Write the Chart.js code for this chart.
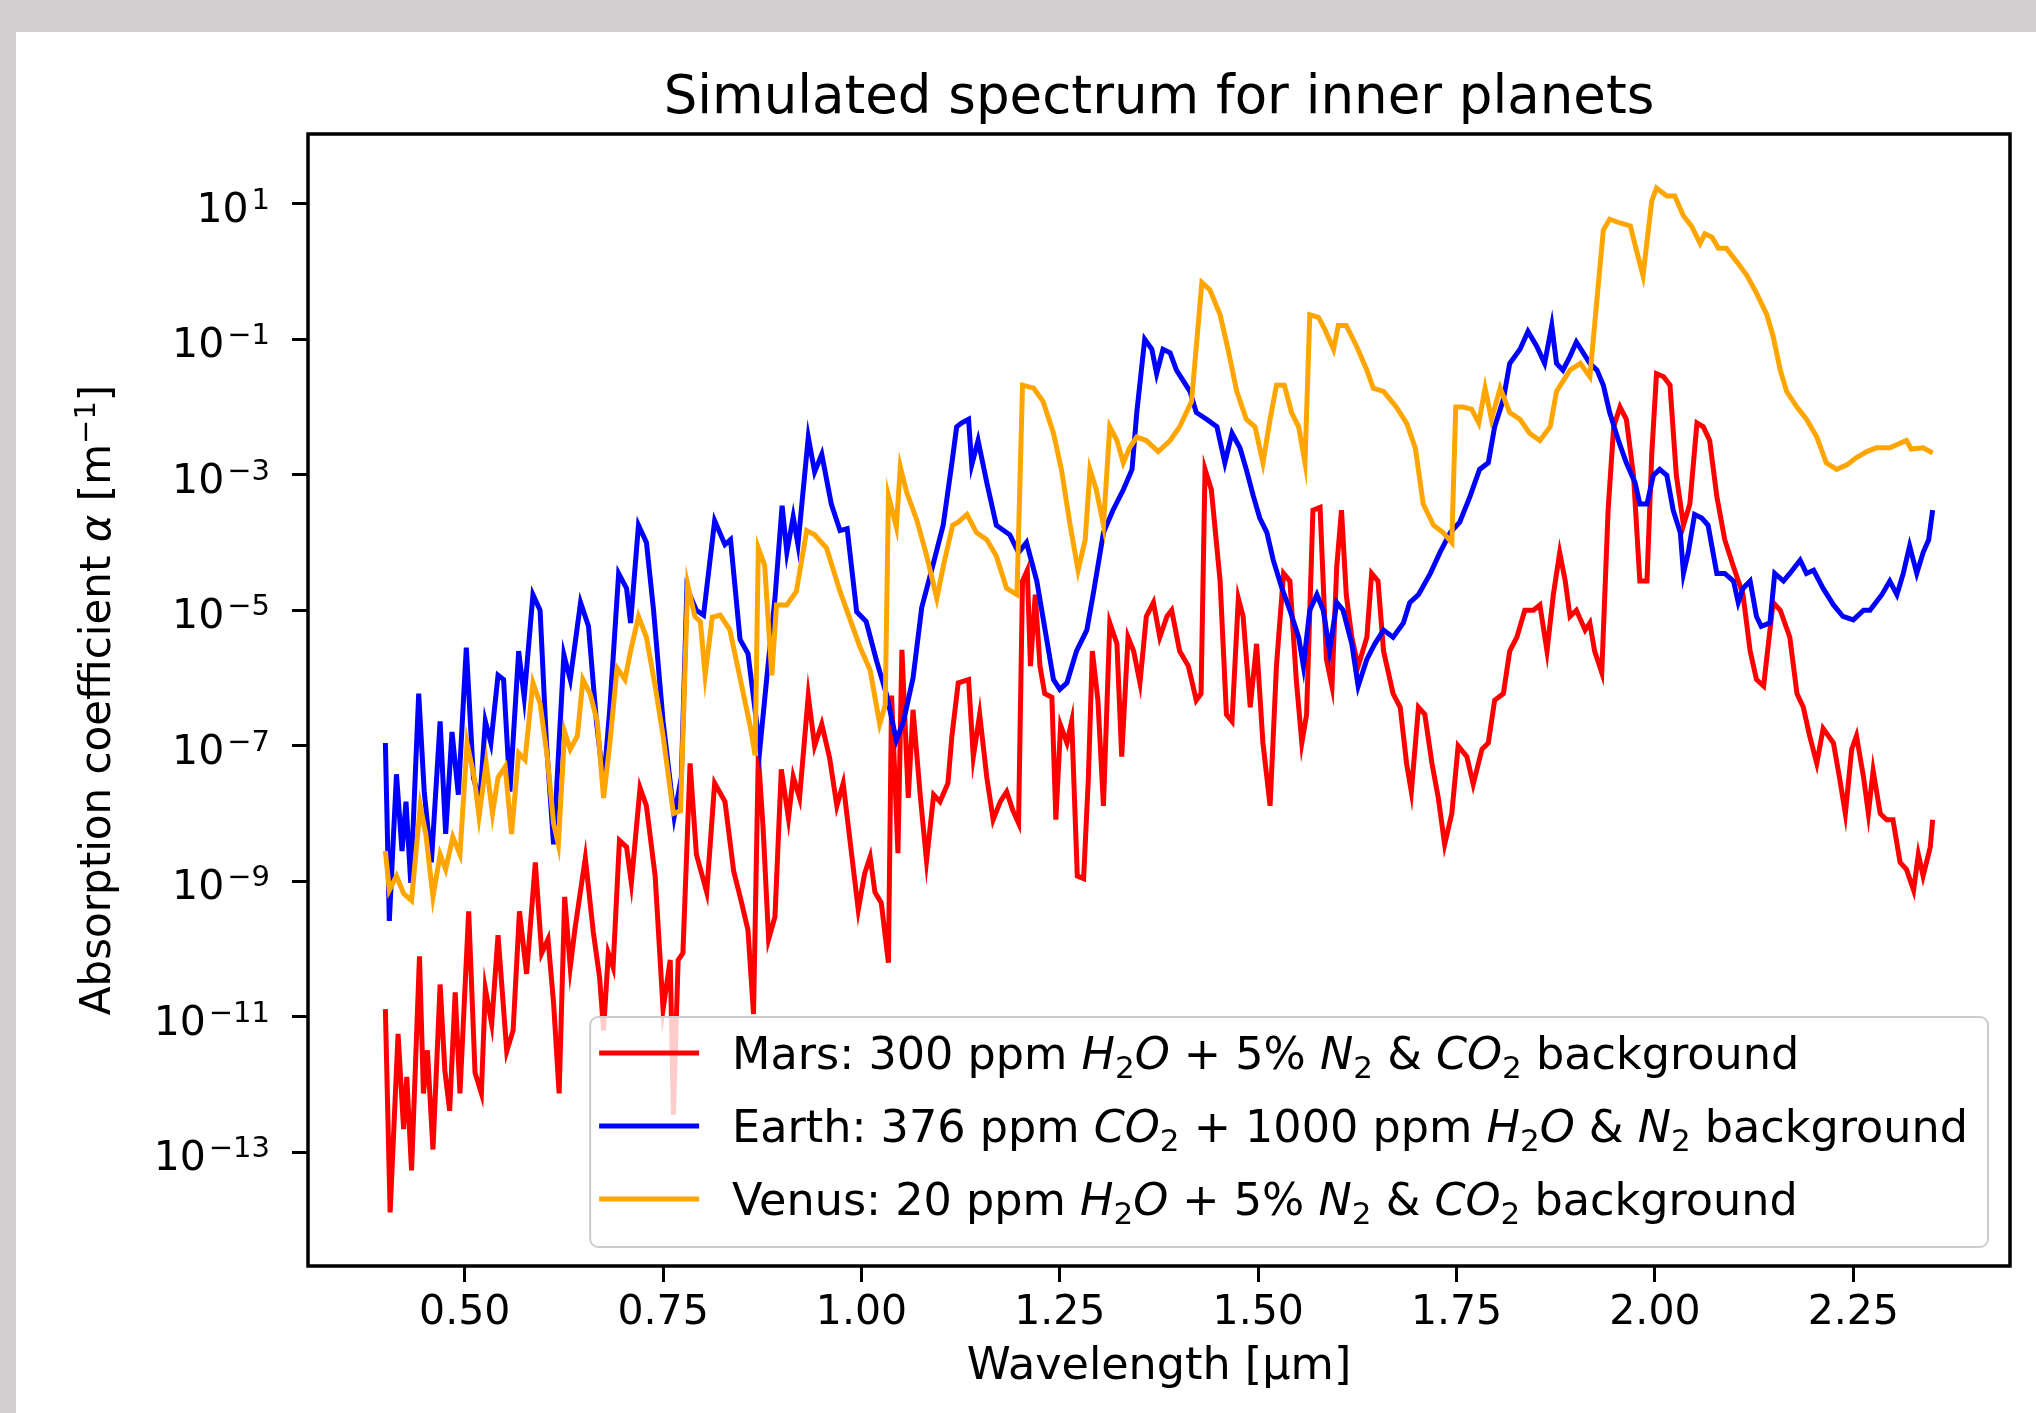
<!DOCTYPE html>
<html>
<head>
<meta charset="utf-8">
<title>Simulated spectrum for inner planets</title>
<script src="https://cdn.jsdelivr.net/npm/chart.js@4.4.1/dist/chart.umd.min.js"></script>
<style>
  html, body { margin: 0; padding: 0; background: #d2cdcf; }
  #wrap { width: 2036px; height: 1413px; }
</style>
</head>
<body>
<div id="wrap"><canvas id="spectrum" width="2036" height="1413"></canvas></div>
<script>
"use strict";

// tick positions / labels
const xTickValues = [0.5, 0.75, 1.0, 1.25, 1.5, 1.75, 2.0, 2.25];
const xTickLabels = ['0.50', '0.75', '1.00', '1.25', '1.50', '1.75', '2.00', '2.25'];
const yTickValues = [1e1, 1e-1, 1e-3, 1e-5, 1e-7, 1e-9, 1e-11, 1e-13];
const yTickExponents = ['1', '\u22121', '\u22123', '\u22125', '\u22127', '\u22129', '\u221211', '\u221213'];

const yAxisTitle = 'Absorption coefficient $\\alpha$ [m$^{\u22121}$]';
const seriesLabels = [
  'Mars: 300 ppm $H_2O$ + 5% $N_2$ & $CO_2$ background',
  'Earth: 376 ppm $CO_2$ + 1000 ppm $H_2O$ & $N_2$ background',
  'Venus: 20 ppm $H_2O$ + 5% $N_2$ & $CO_2$ background'
];

// [wavelength (um), absorption coefficient (1/m)]
const marsPoints = [
  [0.400,1.3e-11],[0.406,1.3e-14],[0.416,5.6e-12],[0.423,2.2e-13],[0.427,1.3e-12],[0.433,5.4e-14],
  [0.443,7.8e-11],[0.448,7.4e-13],[0.453,3.2e-12],[0.460,1.1e-13],[0.469,3.0e-11],[0.475,1.6e-12],
  [0.481,4.1e-13],[0.488,2.3e-11],[0.494,7.4e-13],[0.505,3.6e-10],[0.513,1.5e-12],[0.521,7.4e-13],
  [0.526,2.6e-11],[0.534,7.9e-12],[0.542,1.6e-10],[0.553,3.1e-12],[0.561,6.3e-12],[0.569,3.6e-10],
  [0.578,4.3e-11],[0.589,1.9e-9],[0.597,8.7e-11],[0.605,1.4e-10],[0.612,1.6e-11],[0.619,7.4e-13],
  [0.626,5.9e-10],[0.633,5.4e-11],[0.639,2.0e-10],[0.652,2.2e-9],[0.662,1.8e-10],[0.670,3.8e-11],
  [0.675,6.3e-12],[0.681,8.7e-11],[0.687,5.4e-11],[0.695,4.0e-9],[0.704,3.2e-9],[0.710,9.5e-10],
  [0.721,2.4e-8],[0.729,1.3e-8],[0.740,1.2e-9],[0.750,1.3e-11],[0.759,6.9e-11],[0.763,3.6e-13],
  [0.769,6.9e-11],[0.775,8.7e-11],[0.784,5.5e-8],[0.792,2.5e-9],[0.805,6.9e-10],[0.815,2.8e-8],
  [0.828,1.5e-8],[0.839,1.4e-9],[0.849,4.8e-10],[0.857,1.9e-10],[0.864,1.1e-11],[0.870,7.2e-8],
  [0.876,6.3e-9],[0.883,1.4e-10],[0.891,3.0e-10],[0.899,4.5e-8],[0.908,8.5e-9],[0.914,3.5e-8],
  [0.922,1.7e-8],[0.933,5.5e-7],[0.941,1.0e-7],[0.950,2.1e-7],[0.960,6.5e-8],[0.969,1.3e-8],
  [0.977,2.8e-8],[0.988,2.3e-9],[0.996,3.8e-10],[1.004,1.3e-9],[1.011,2.3e-9],[1.017,6.9e-10],
  [1.025,4.8e-10],[1.034,6.3e-11],[1.038,5.5e-7],[1.046,2.6e-9],[1.051,2.6e-6],[1.059,1.7e-8],
  [1.065,3.4e-7],[1.074,1.9e-8],[1.082,2.0e-9],[1.091,1.9e-8],[1.099,1.5e-8],[1.109,2.8e-8],
  [1.114,1.4e-7],[1.122,8.5e-7],[1.135,9.5e-7],[1.141,6.9e-8],[1.149,2.9e-7],[1.158,3.4e-8],
  [1.166,8.1e-9],[1.175,1.5e-8],[1.183,2.1e-8],[1.191,1.1e-8],[1.198,7.2e-9],[1.203,2.7e-5],
  [1.209,3.9e-5],[1.213,1.5e-6],[1.219,1.7e-5],[1.225,1.5e-6],[1.231,5.9e-7],[1.240,5.2e-7],
  [1.245,8.1e-9],[1.251,2.0e-7],[1.259,1.1e-7],[1.265,2.3e-7],[1.272,1.2e-9],[1.280,1.1e-9],
  [1.286,3.4e-8],[1.291,2.5e-6],[1.298,4.7e-7],[1.305,1.3e-8],[1.313,6.5e-6],[1.322,3.2e-6],
  [1.328,6.9e-8],[1.336,4.0e-6],[1.343,2.5e-6],[1.351,8.5e-7],[1.359,8.1e-6],[1.368,1.3e-5],
  [1.376,4.0e-6],[1.385,8.1e-6],[1.391,1.0e-5],[1.401,2.5e-6],[1.412,1.5e-6],[1.422,4.7e-7],
  [1.428,5.9e-7],[1.433,1.2e-3],[1.441,6.0e-4],[1.452,2.7e-5],[1.460,2.9e-7],[1.467,2.3e-7],
  [1.475,1.5e-5],[1.481,8.1e-6],[1.490,3.7e-7],[1.498,3.2e-6],[1.506,1.1e-7],[1.515,1.3e-8],
  [1.523,1.5e-6],[1.532,3.5e-5],[1.540,2.7e-5],[1.548,9.5e-7],[1.555,1.1e-7],[1.561,2.9e-7],
  [1.569,3.0e-4],[1.578,3.3e-4],[1.586,1.9e-6],[1.593,7.6e-7],[1.599,4.4e-5],[1.605,3.0e-4],
  [1.611,1.7e-5],[1.618,4.0e-6],[1.626,1.5e-6],[1.637,4.0e-6],[1.643,3.5e-5],[1.651,2.7e-5],
  [1.658,2.5e-6],[1.670,5.9e-7],[1.679,3.7e-7],[1.687,5.5e-8],[1.693,2.1e-8],[1.702,3.7e-7],
  [1.710,2.9e-7],[1.719,5.5e-8],[1.727,1.7e-8],[1.735,3.5e-9],[1.744,1.0e-8],[1.752,1.0e-7],
  [1.763,6.9e-8],[1.771,2.7e-8],[1.782,8.9e-8],[1.790,1.1e-7],[1.798,4.7e-7],[1.809,5.9e-7],
  [1.817,2.5e-6],[1.826,4.0e-6],[1.836,1.0e-5],[1.847,1.0e-5],[1.855,1.2e-5],[1.864,2.5e-6],
  [1.872,1.7e-5],[1.880,7.1e-5],[1.887,2.7e-5],[1.893,8.1e-6],[1.901,1.0e-5],[1.912,5.1e-6],
  [1.918,6.5e-6],[1.924,2.5e-6],[1.933,1.2e-6],[1.941,3.0e-4],[1.948,5.1e-3],[1.956,1.0e-2],
  [1.964,6.6e-3],[1.973,9.8e-4],[1.981,2.7e-5],[1.990,2.7e-5],[1.996,2.0e-3],[2.002,3.1e-2],
  [2.011,2.8e-2],[2.019,2.1e-2],[2.027,9.8e-4],[2.036,1.8e-4],[2.044,3.7e-4],[2.053,5.8e-3],
  [2.061,5.1e-3],[2.069,3.2e-3],[2.078,4.8e-4],[2.088,1.1e-4],[2.099,4.4e-5],[2.111,1.7e-5],
  [2.120,2.5e-6],[2.128,9.5e-7],[2.137,7.6e-7],[2.143,3.2e-6],[2.149,1.3e-5],[2.158,1.0e-5],
  [2.170,4.0e-6],[2.179,5.9e-7],[2.187,3.7e-7],[2.195,1.4e-7],[2.204,5.5e-8],[2.212,1.8e-7],
  [2.225,1.1e-7],[2.233,3.2e-8],[2.240,1.0e-8],[2.248,8.9e-8],[2.254,1.4e-7],[2.263,3.4e-8],
  [2.269,1.0e-8],[2.275,4.3e-8],[2.284,1.0e-8],[2.292,8.1e-9],[2.300,8.1e-9],[2.309,1.9e-9],
  [2.317,1.5e-9],[2.326,7.4e-10],[2.332,2.5e-9],[2.338,1.2e-9],[2.347,3.2e-9],[2.350,8.1e-9]
];

const earthPoints = [
  [0.400,1.1e-7],[0.405,2.6e-10],[0.414,3.8e-8],[0.421,2.8e-9],[0.426,1.5e-8],[0.432,9.5e-10],
  [0.442,5.9e-7],[0.449,2.1e-8],[0.458,1.9e-9],[0.469,2.3e-7],[0.476,5.0e-9],[0.484,1.6e-7],
  [0.492,1.9e-8],[0.502,2.8e-6],[0.511,3.4e-8],[0.519,1.5e-8],[0.526,2.3e-7],[0.533,1.1e-7],
  [0.542,1.1e-6],[0.549,9.5e-7],[0.557,2.1e-8],[0.568,2.5e-6],[0.575,5.2e-7],[0.586,1.7e-5],
  [0.595,1.0e-5],[0.603,1.1e-7],[0.612,3.5e-9],[0.625,2.2e-6],[0.633,9.5e-7],[0.646,1.3e-5],
  [0.656,5.8e-6],[0.666,2.3e-7],[0.675,2.7e-8],[0.683,3.7e-7],[0.694,3.5e-5],[0.704,2.1e-5],
  [0.709,6.5e-6],[0.719,1.8e-4],[0.729,1.0e-4],[0.738,1.0e-5],[0.750,2.3e-7],[0.764,9.1e-9],
  [0.773,3.4e-8],[0.780,2.1e-5],[0.792,1.0e-5],[0.801,8.5e-6],[0.815,2.1e-4],[0.828,9.3e-5],
  [0.835,1.1e-4],[0.847,3.7e-6],[0.857,2.3e-6],[0.872,9.1e-8],[0.881,1.1e-6],[0.891,1.5e-5],
  [0.900,3.5e-4],[0.906,7.2e-5],[0.914,2.4e-4],[0.920,9.3e-5],[0.933,3.6e-3],[0.941,1.1e-3],
  [0.950,2.0e-3],[0.962,3.7e-4],[0.973,1.5e-4],[0.982,1.6e-4],[0.994,9.5e-6],[1.006,6.8e-6],
  [1.019,1.8e-6],[1.032,5.5e-7],[1.044,1.2e-7],[1.053,2.3e-7],[1.065,1.0e-6],[1.076,1.1e-5],
  [1.090,4.6e-5],[1.103,1.8e-4],[1.114,1.5e-3],[1.120,5.1e-3],[1.126,5.8e-3],[1.135,6.6e-3],
  [1.139,1.4e-3],[1.147,3.2e-3],[1.158,7.6e-4],[1.170,1.8e-4],[1.187,1.3e-4],[1.198,7.1e-5],
  [1.208,1.0e-4],[1.221,2.7e-5],[1.233,4.0e-6],[1.242,9.5e-7],[1.250,6.8e-7],[1.259,8.5e-7],
  [1.271,2.5e-6],[1.284,5.1e-6],[1.292,1.7e-5],[1.305,1.4e-4],[1.317,3.0e-4],[1.330,6.0e-4],
  [1.341,1.2e-3],[1.347,8.3e-3],[1.357,1.0e-1],[1.366,7.1e-2],[1.372,3.1e-2],[1.380,7.1e-2],
  [1.389,6.3e-2],[1.397,3.5e-2],[1.414,1.7e-2],[1.422,8.3e-3],[1.435,6.6e-3],[1.448,5.1e-3],
  [1.458,1.5e-3],[1.467,4.1e-3],[1.477,2.5e-3],[1.485,1.2e-3],[1.494,4.8e-4],[1.502,2.3e-4],
  [1.511,1.4e-4],[1.519,5.5e-5],[1.530,2.1e-5],[1.540,1.0e-5],[1.551,4.0e-6],[1.557,1.5e-6],
  [1.565,1.0e-5],[1.574,1.7e-5],[1.582,1.0e-5],[1.590,2.5e-6],[1.599,1.3e-5],[1.607,1.0e-5],
  [1.618,3.2e-6],[1.626,7.6e-7],[1.637,1.9e-6],[1.647,3.2e-6],[1.658,5.1e-6],[1.670,4.0e-6],
  [1.683,6.5e-6],[1.691,1.3e-5],[1.702,1.7e-5],[1.717,3.5e-5],[1.729,7.1e-5],[1.742,1.4e-4],
  [1.754,2.0e-4],[1.767,4.8e-4],[1.779,1.2e-3],[1.790,1.5e-3],[1.798,5.1e-3],[1.809,1.3e-2],
  [1.817,4.4e-2],[1.830,7.1e-2],[1.840,1.3e-1],[1.851,7.9e-2],[1.861,4.4e-2],[1.870,1.6e-1],
  [1.876,4.4e-2],[1.884,3.5e-2],[1.893,5.6e-2],[1.901,9.1e-2],[1.918,4.4e-2],[1.927,3.5e-2],
  [1.935,2.1e-2],[1.943,8.3e-3],[1.954,3.2e-3],[1.964,1.5e-3],[1.975,7.6e-4],[1.981,3.7e-4],
  [1.990,3.7e-4],[1.998,9.8e-4],[2.006,1.2e-3],[2.015,9.8e-4],[2.023,3.0e-4],[2.032,1.4e-4],
  [2.036,3.5e-5],[2.042,7.1e-5],[2.050,2.6e-4],[2.059,2.3e-4],[2.067,1.8e-4],[2.078,3.5e-5],
  [2.088,3.5e-5],[2.099,2.7e-5],[2.105,1.3e-5],[2.111,2.1e-5],[2.120,2.7e-5],[2.128,8.1e-6],
  [2.134,5.8e-6],[2.145,6.5e-6],[2.151,3.5e-5],[2.162,2.7e-5],[2.170,3.5e-5],[2.183,5.5e-5],
  [2.191,3.5e-5],[2.200,3.9e-5],[2.212,2.1e-5],[2.225,1.2e-5],[2.237,8.1e-6],[2.250,7.2e-6],
  [2.263,1.0e-5],[2.271,1.0e-5],[2.286,1.7e-5],[2.296,2.7e-5],[2.305,1.7e-5],[2.313,3.5e-5],
  [2.321,8.9e-5],[2.330,3.5e-5],[2.338,7.1e-5],[2.345,1.1e-4],[2.350,3.0e-4]
];

const venusPoints = [
  [0.400,2.8e-9],[0.405,7.4e-10],[0.414,1.2e-9],[0.423,6.6e-10],[0.433,5.2e-10],[0.444,1.3e-8],
  [0.451,5.0e-9],[0.460,5.9e-10],[0.469,2.5e-9],[0.476,1.5e-9],[0.485,4.5e-9],[0.494,2.5e-9],
  [0.503,1.1e-7],[0.512,3.4e-8],[0.518,9.1e-9],[0.527,5.5e-8],[0.535,1.0e-8],[0.542,3.4e-8],
  [0.551,4.9e-8],[0.559,5.0e-9],[0.568,7.8e-8],[0.576,6.2e-8],[0.586,8.5e-7],[0.595,4.2e-7],
  [0.604,6.9e-8],[0.612,7.2e-9],[0.618,3.5e-9],[0.626,1.6e-7],[0.633,8.9e-8],[0.642,1.4e-7],
  [0.649,9.5e-7],[0.658,5.9e-7],[0.667,2.3e-7],[0.675,1.7e-8],[0.683,1.1e-7],[0.692,1.4e-6],
  [0.702,9.5e-7],[0.709,2.5e-6],[0.719,8.1e-6],[0.729,4.0e-6],[0.740,7.6e-7],[0.750,1.4e-7],
  [0.763,1.0e-8],[0.772,1.1e-8],[0.781,2.4e-5],[0.790,8.1e-6],[0.797,6.8e-6],[0.803,1.1e-6],
  [0.812,7.9e-6],[0.822,8.5e-6],[0.834,5.2e-6],[0.847,1.0e-6],[0.860,1.9e-7],[0.866,7.2e-8],
  [0.870,8.3e-5],[0.878,4.6e-5],[0.887,1.1e-6],[0.893,1.2e-5],[0.906,1.2e-5],[0.918,1.9e-5],
  [0.931,1.5e-4],[0.941,1.3e-4],[0.956,8.3e-5],[0.973,1.9e-5],[0.998,2.9e-6],[1.011,1.3e-6],
  [1.023,2.1e-7],[1.030,4.0e-7],[1.034,4.9e-4],[1.044,1.7e-4],[1.049,1.3e-3],[1.057,5.5e-4],
  [1.070,2.1e-4],[1.082,6.5e-5],[1.095,1.5e-5],[1.104,5.0e-5],[1.115,1.8e-4],[1.122,2.0e-4],
  [1.133,2.6e-4],[1.145,1.4e-4],[1.158,1.1e-4],[1.170,6.3e-5],[1.183,2.1e-5],[1.196,1.7e-5],
  [1.203,2.1e-2],[1.217,1.9e-2],[1.229,1.2e-2],[1.242,4.1e-3],[1.252,1.2e-3],[1.263,1.8e-4],
  [1.273,3.9e-5],[1.282,1.1e-4],[1.288,1.2e-3],[1.296,6.0e-4],[1.305,1.8e-4],[1.313,5.1e-3],
  [1.322,3.2e-3],[1.330,1.5e-3],[1.338,2.5e-3],[1.347,3.6e-3],[1.359,3.2e-3],[1.374,2.2e-3],
  [1.389,3.2e-3],[1.401,5.1e-3],[1.416,1.2e-2],[1.429,6.9e-1],[1.439,5.4e-1],[1.452,2.3e-1],
  [1.462,7.1e-2],[1.473,1.7e-2],[1.485,6.6e-3],[1.496,5.1e-3],[1.506,1.5e-3],[1.515,6.6e-3],
  [1.523,2.1e-2],[1.533,2.1e-2],[1.542,8.3e-3],[1.551,5.1e-3],[1.559,1.5e-3],[1.565,2.3e-1],
  [1.576,2.1e-1],[1.584,1.4e-1],[1.595,7.1e-2],[1.601,1.6e-1],[1.611,1.6e-1],[1.624,7.9e-2],
  [1.637,3.5e-2],[1.645,1.9e-2],[1.658,1.7e-2],[1.674,1.0e-2],[1.687,5.8e-3],[1.698,2.5e-3],
  [1.708,3.7e-4],[1.721,1.8e-4],[1.733,1.4e-4],[1.744,1.0e-4],[1.749,1.0e-2],[1.758,1.0e-2],
  [1.769,9.3e-3],[1.778,5.8e-3],[1.786,1.9e-2],[1.794,6.6e-3],[1.805,1.9e-2],[1.817,8.3e-3],
  [1.830,6.6e-3],[1.842,4.1e-3],[1.855,3.2e-3],[1.868,5.1e-3],[1.876,1.7e-2],[1.893,3.5e-2],
  [1.906,4.4e-2],[1.918,2.8e-2],[1.935,4.1],[1.943,5.9],[1.956,5.2],[1.969,4.7],
  [1.977,2.0],[1.985,0.87],[1.996,11],[2.002,17],[2.015,13],[2.025,13],
  [2.036,6.6],[2.046,4.7],[2.057,2.6],[2.063,3.6],[2.072,3.2],[2.080,2.2],
  [2.090,2.2],[2.103,1.4],[2.116,0.87],[2.128,0.48],[2.141,0.23],[2.149,0.11],
  [2.158,3.5e-2],[2.166,1.7e-2],[2.179,1.0e-2],[2.191,6.6e-3],[2.204,3.6e-3],[2.216,1.5e-3],
  [2.229,1.2e-3],[2.242,1.4e-3],[2.254,1.8e-3],[2.267,2.2e-3],[2.279,2.5e-3],[2.296,2.5e-3],
  [2.317,3.2e-3],[2.323,2.4e-3],[2.338,2.5e-3],[2.350,2.1e-3]
];

const seriesColors = ['#ff0000', '#0000ff', '#ffa500'];
const FONT = '"DejaVu Sans", "Liberation Sans", sans-serif';

const toXY = (pts) => pts.map(p => ({ x: p[0], y: p[1] }));

// page background + white figure panel
const panelBackground = {
  id: 'panelBackground',
  beforeDraw(chart) {
    const { ctx, width, height } = chart;
    ctx.save();
    ctx.fillStyle = '#d2cdcf';
    ctx.fillRect(0, 0, width, height);
    ctx.fillStyle = '#ffffff';
    ctx.fillRect(16, 32, width - 16, height - 32);
    ctx.restore();
  }
};

// four spines around the axes
const axesFrame = {
  id: 'axesFrame',
  afterDatasetsDraw(chart) {
    const { ctx, chartArea: a } = chart;
    ctx.save();
    ctx.strokeStyle = '#000';
    ctx.lineWidth = 3.5;
    ctx.strokeRect(a.left, a.top, a.right - a.left, a.bottom - a.top);
    ctx.restore();
  }
};

// mathtext-like runs: "$...$" letters italic, "_x" subscript, "^{..}" superscript
function mathRuns(text) {
  const runs = [];
  text.split('$').forEach((part, k) => {
    if (k % 2 === 0) {
      if (part) runs.push({ t: part, s: 'n' });
      return;
    }
    for (let i = 0; i < part.length; i++) {
      const c = part[i];
      if (c === '_') {
        runs.push({ t: part[++i], s: 'sub' });
      } else if (c === '^') {
        const end = part.indexOf('}', i);
        runs.push({ t: part.slice(i + 2, end), s: 'sup' });
        i = end;
      } else if (c === '\\') {
        runs.push({ t: '\u03B1', s: 'i' });
        i += 5;
      } else {
        runs.push({ t: c, s: /[A-Za-z]/.test(c) ? 'i' : 'n' });
      }
    }
  });
  return runs;
}

function runFonts(size) {
  return {
    n: `${size}px ${FONT}`,
    i: `italic ${size}px ${FONT}`,
    sub: `${Math.round(size * 0.7)}px ${FONT}`,
    sup: `${Math.round(size * 0.7)}px ${FONT}`
  };
}

function runsWidth(ctx, runs, fonts) {
  return runs.reduce((w, run) => {
    ctx.font = fonts[run.s];
    return w + ctx.measureText(run.t).width;
  }, 0);
}

function drawRuns(ctx, runs, fonts, x, base, size) {
  runs.forEach(run => {
    ctx.font = fonts[run.s];
    let y = base;
    if (run.s === 'sub') y = base + size * 0.2;
    if (run.s === 'sup') y = base - size * 0.36;
    ctx.fillText(run.t, x, y);
    x += ctx.measureText(run.t).width;
  });
}

// y tick labels written as 10 with a raised exponent
const powerTicks = {
  id: 'powerTicks',
  afterDraw(chart) {
    const { ctx, chartArea: a, scales } = chart;
    const right = a.left - 38;
    ctx.save();
    ctx.fillStyle = '#000';
    ctx.textBaseline = 'alphabetic';
    ctx.textAlign = 'left';
    yTickValues.forEach((v, i) => {
      const y = scales.y.getPixelForValue(v);
      ctx.font = `29px ${FONT}`;
      const ew = ctx.measureText(yTickExponents[i]).width;
      ctx.font = `41px ${FONT}`;
      const bw = ctx.measureText('10').width;
      const x0 = right - ew - 3 - bw;
      ctx.fillText('10', x0, y + 18);
      ctx.font = `29px ${FONT}`;
      ctx.fillText(yTickExponents[i], x0 + bw + 3, y + 5);
    });

    // rotated y axis title
    const size = 42;
    const fonts = runFonts(size);
    const runs = mathRuns(yAxisTitle);
    const w = runsWidth(ctx, runs, fonts);
    ctx.translate(95, (a.top + a.bottom) / 2);
    ctx.rotate(-Math.PI / 2);
    drawRuns(ctx, runs, fonts, -w / 2, 15, size);
    ctx.restore();
  }
};

const mathLegend = {
  id: 'mathLegend',
  afterDraw(chart) {
    const { ctx, chartArea: a } = chart;
    const size = 44.5;
    const fonts = runFonts(size);
    const sets = chart.data.datasets;
    const rows = sets.map(ds => mathRuns(ds.label));
    ctx.save();
    const textW = Math.max(...rows.map(r => runsWidth(ctx, r, fonts)));
    const right = a.right - 22;
    const bottom = a.bottom - 19;
    const boxW = 9 + 100 + 33 + textW + 20;
    const boxH = 230;
    const left = right - boxW;
    const top = bottom - boxH;

    ctx.beginPath();
    ctx.roundRect(left, top, boxW, boxH, 8);
    ctx.fillStyle = 'rgba(255,255,255,0.8)';
    ctx.fill();
    ctx.lineWidth = 2;
    ctx.strokeStyle = '#cccccc';
    ctx.stroke();

    rows.forEach((runs, k) => {
      const cy = top + 36 + k * 73;
      ctx.beginPath();
      ctx.moveTo(left + 9, cy);
      ctx.lineTo(left + 109, cy);
      ctx.strokeStyle = sets[k].borderColor;
      ctx.lineWidth = 5;
      ctx.stroke();
      ctx.fillStyle = '#000';
      ctx.textBaseline = 'alphabetic';
      ctx.textAlign = 'left';
      drawRuns(ctx, runs, fonts, left + 142, cy + 16, size);
    });
    ctx.restore();
  }
};

const lineSet = (label, pts, color, order) => ({
  label: label,
  data: toXY(pts),
  borderColor: color,
  backgroundColor: color,
  borderWidth: 5,
  pointRadius: 0,
  tension: 0,
  fill: false,
  order: order
});

const tickGrid = {
  display: true,
  drawOnChartArea: false,
  drawTicks: true,
  tickLength: 16,
  tickWidth: 3,
  tickColor: '#000',
  color: '#000'
};

new Chart(document.getElementById('spectrum'), {
  type: 'line',
  data: {
    datasets: [
      lineSet(seriesLabels[0], marsPoints, seriesColors[0], 2),
      lineSet(seriesLabels[1], earthPoints, seriesColors[1], 1),
      lineSet(seriesLabels[2], venusPoints, seriesColors[2], 0)
    ]
  },
  options: {
    responsive: false,
    animation: false,
    devicePixelRatio: 1,
    layout: { padding: { left: 0, right: 26, top: 0, bottom: 0 } },
    plugins: {
      legend: { display: false },
      tooltip: { enabled: false },
      title: {
        display: true,
        fullSize: false,
        text: 'Simulated spectrum for inner planets',
        color: '#000',
        font: { family: FONT, size: 53, weight: 'normal' },
        padding: { top: 67, bottom: 3.4 }
      }
    },
    scales: {
      x: {
        type: 'linear',
        min: 0.3025,
        max: 2.4475,
        afterBuildTicks: (s) => { s.ticks = xTickValues.map(v => ({ value: v })); },
        afterFit: (s) => { s.height = 147; },
        border: { display: false },
        grid: tickGrid,
        ticks: {
          autoSkip: false,
          maxRotation: 0,
          padding: 7,
          color: '#000',
          font: { family: FONT, size: 41 },
          callback: (v, i) => xTickLabels[i]
        },
        title: {
          display: true,
          text: 'Wavelength [\u00B5m]',
          color: '#000',
          font: { family: FONT, size: 44.5 },
          padding: { top: 0, bottom: 19 }
        }
      },
      y: {
        type: 'logarithmic',
        min: 2.1e-15,
        max: 107,
        bounds: 'data',
        afterBuildTicks: (s) => { s.ticks = yTickValues.map(v => ({ value: v })); },
        afterFit: (s) => { s.width = 308; },
        border: { display: false },
        grid: tickGrid,
        ticks: { display: false, autoSkip: false },
        title: { display: false }
      }
    }
  },
  plugins: [panelBackground, axesFrame, powerTicks, mathLegend]
});
</script>
</body>
</html>
